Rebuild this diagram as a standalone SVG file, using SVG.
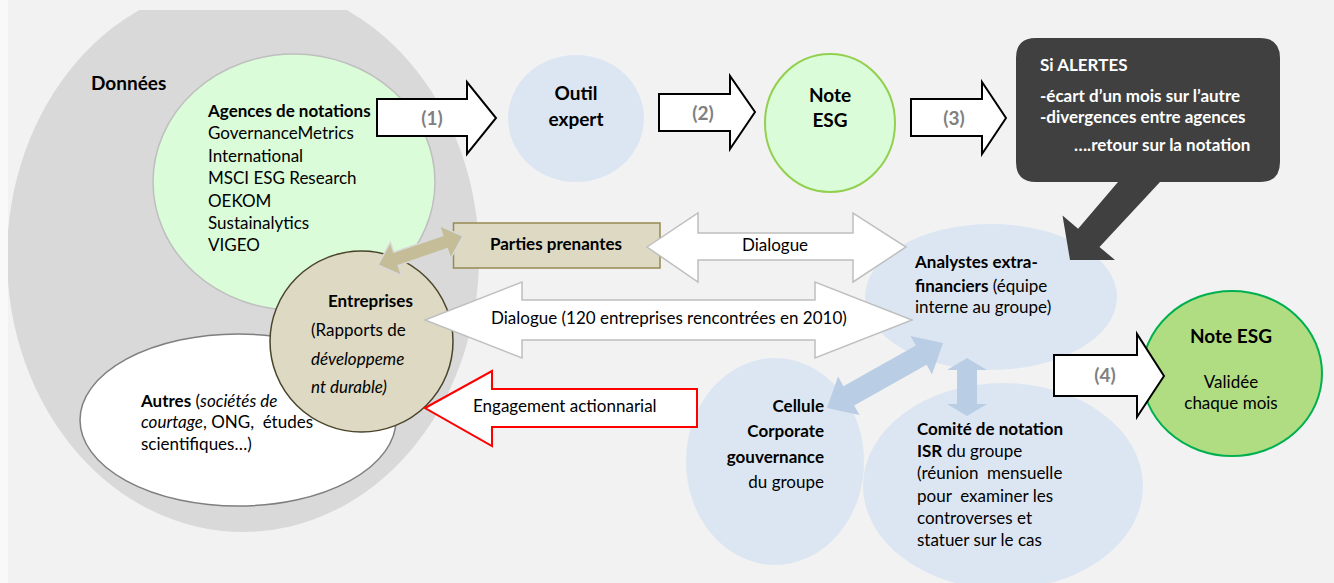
<svg xmlns="http://www.w3.org/2000/svg" width="1334" height="583" viewBox="0 0 1334 583">
<style>
.t{font-family:Lato,"Liberation Sans",sans-serif;font-size:17px;fill:#000}
.b{font-weight:bold}
.i{font-style:italic}
.h{font-family:Lato,"Liberation Sans",sans-serif;font-size:19px;font-weight:bold;fill:#000}
.lbl{font-family:Lato,"Liberation Sans",sans-serif;font-size:19px;font-weight:bold;fill:#808080;text-anchor:middle}
.w{fill:#fff}
.blk{fill:#fff;stroke:#000;stroke-width:2;stroke-linejoin:miter}
.dlg{fill:#fff;stroke:#bfbfbf;stroke-width:1.5}
.blue{fill:#dce6f2}
.barrow{fill:#b9cde5}
</style>
<defs>
<clipPath id="slide"><rect x="8" y="10" width="1326" height="573"/></clipPath>
</defs>
<rect x="0" y="0" width="1334" height="583" fill="#f2f2f2"/>
<rect x="0" y="0" width="8" height="583" fill="#f9f9f9"/>

<g id="donnees">
<ellipse cx="243" cy="257" rx="236" ry="275" fill="#d9d9d9" clip-path="url(#slide)"/>
<text class="h" x="91" y="90">Données</text>
</g>

<g id="agences">
<ellipse cx="294" cy="182" rx="141" ry="128" fill="#dbfcd8" stroke="#bfbfbf" stroke-width="1.5"/>
<text class="t b" x="208" y="117">Agences de notations</text>
<text class="t" x="208" y="139">GovernanceMetrics</text>
<text class="t" x="208" y="162">International</text>
<text class="t" x="208" y="184">MSCI ESG Research</text>
<text class="t" x="208" y="207">OEKOM</text>
<text class="t" x="208" y="229">Sustainalytics</text>
<text class="t" x="208" y="251">VIGEO</text>
</g>

<g id="autres">
<ellipse cx="238" cy="420" rx="158" ry="86" fill="#fff" stroke="#7f7f7f" stroke-width="1.5"/>
<text class="t" x="141" y="407" xml:space="preserve"><tspan class="b">Autres</tspan> (<tspan class="i">sociétés de</tspan></text>
<text class="t" x="141" y="428" xml:space="preserve"><tspan class="i">courtage</tspan>, ONG,  études</text>
<text class="t" x="141" y="450">scientifiques…)</text>
</g>

<g id="entreprises">
<ellipse cx="361.5" cy="341.5" rx="91.5" ry="90.5" fill="#ddd9c3" stroke="#4a452a" stroke-width="1.5"/>
<text class="t b" x="328" y="307">Entreprises</text>
<text class="t" x="311" y="336">(Rapports de</text>
<text class="t i" x="311" y="365">développeme</text>
<text class="t i" x="311" y="393">nt durable)</text>
</g>

<g id="parties-prenantes">
<rect x="453.5" y="223" width="206.5" height="45" fill="#ddd9c3" stroke="#948a54" stroke-width="1.5"/>
<text class="t b" x="556" y="250" text-anchor="middle">Parties prenantes</text>
</g>

<g id="outil">
<ellipse cx="576" cy="118.5" rx="68" ry="63.5" class="blue"/>
<text class="h" x="576" y="100" text-anchor="middle">Outil</text>
<text class="h" x="576" y="126" text-anchor="middle">expert</text>
</g>

<g id="note-esg-1">
<ellipse cx="830" cy="123" rx="65" ry="69" fill="#dbfcd8" stroke="#92d050" stroke-width="2"/>
<text class="h" x="830" y="102" text-anchor="middle">Note</text>
<text class="h" x="830" y="127" text-anchor="middle">ESG</text>
</g>

<g id="analystes">
<ellipse cx="991" cy="297" rx="126" ry="73" class="blue"/>
<text class="t b" x="915" y="268">Analystes extra-</text>
<text class="t" x="915" y="292"><tspan class="b">financiers</tspan> (équipe</text>
<text class="t" x="915" y="313">interne au groupe)</text>
</g>

<g id="alertes">
<path fill="#404040" d="M1036,38 H1260 Q1280,38 1280,58 V162 Q1280,182 1260,182 H1160 L1099.5,247 L1115,260 L1070,260 L1062.5,215.6 L1078.1,228.8 L1118,182 H1036 Q1016,182 1016,162 V58 Q1016,38 1036,38 Z"/>
<text class="t b w" x="1040" y="71">Si ALERTES</text>
<text class="t b w" x="1040" y="102">-écart d’un mois sur l’autre</text>
<text class="t b w" x="1040" y="123">-divergences entre agences</text>
<text class="t b w" x="1074" y="151">….retour sur la notation</text>
</g>

<g id="cellule">
<ellipse cx="775" cy="461.5" rx="89" ry="103.5" class="blue"/>
<text class="t b" x="824" y="412" text-anchor="end">Cellule</text>
<text class="t b" x="824" y="437" text-anchor="end">Corporate</text>
<text class="t b" x="824" y="463" text-anchor="end">gouvernance</text>
<text class="t" x="824" y="488" text-anchor="end">du groupe</text>
</g>

<g id="comite">
<ellipse cx="1003" cy="486" rx="140" ry="103" class="blue"/>
<text class="t b" x="917" y="435">Comité de notation</text>
<text class="t" x="917" y="457"><tspan class="b">ISR</tspan> du groupe</text>
<text class="t" x="917" y="479" xml:space="preserve">(réunion  mensuelle</text>
<text class="t" x="917" y="502" xml:space="preserve">pour  examiner les</text>
<text class="t" x="917" y="524">controverses et</text>
<text class="t" x="917" y="546">statuer sur le cas</text>
</g>

<g id="note-esg-2">
<ellipse cx="1232" cy="373.5" rx="90" ry="82.5" fill="#b0dd82" stroke="#00b050" stroke-width="2"/>
<text class="h" x="1231" y="343" text-anchor="middle">Note ESG</text>
<text class="t" x="1231" y="388" text-anchor="middle">Validée</text>
<text class="t" x="1231" y="409" text-anchor="middle">chaque mois</text>
</g>

<g id="connectors">
<path fill="#c4bd97" stroke="#d9d9d9" stroke-width="1.5" transform="translate(378,265) rotate(-18.84)" d="M0,0 L19,-17.5 L19,-7 L70.8,-7 L70.8,-17.5 L89.8,0 L70.8,17.5 L70.8,7 L19,7 L19,17.5 Z"/>
<path class="blk" d="M377,99 H467 V82 L496,118 L467,154 V136 H377 Z"/>
<text class="lbl" x="432" y="125">(1)</text>
<path class="blk" d="M659,94 H730 V76 L755,112 L730,149 V131 H659 Z"/>
<text class="lbl" x="703" y="120">(2)</text>
<path class="blk" d="M911,99 H982 V82 L1006,118 L982,154 V136 H911 Z"/>
<text class="lbl" x="954" y="125">(3)</text>
<path class="dlg" d="M647,247 L698,213 L698,233 L853,233 L853,213 L906,247 L853,282 L853,260 L698,260 L698,282 Z"/>
<text class="t" x="775" y="251" text-anchor="middle">Dialogue</text>
<path class="dlg" d="M425,320 L522,282 L522,300 L815,300 L815,282 L912,320 L815,358 L815,340 L522,340 L522,358 Z"/>
<text class="t" x="491" y="324">Dialogue (120 entreprises rencontrées en 2010)</text>
<path fill="#fff" stroke="#ff0000" stroke-width="2" d="M425,408 L492,371 L492,389 L697,389 L697,427 L492,427 L492,446 Z"/>
<text class="t" x="473" y="412">Engagement actionnarial</text>
<path class="barrow" transform="translate(827,408) rotate(-29.26)" d="M0,0 L25,-22 L25,-11 L108,-11 L108,-22 L133,0 L108,22 L108,11 L25,11 L25,22 Z"/>
<path class="barrow" d="M967,358 L987,370 L977,370 L977,404 L987,404 L967,416 L947,404 L957,404 L957,370 L947,370 Z"/>
<path class="blk" d="M1054,355 H1137 V334 L1164,376 L1137,417 V396 H1054 Z"/>
<text class="lbl" x="1105" y="382">(4)</text>
</g>
</svg>
